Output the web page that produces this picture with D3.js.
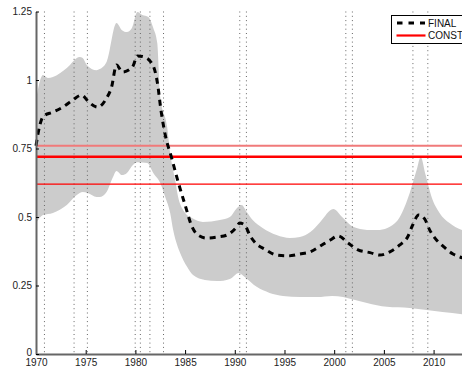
<!DOCTYPE html>
<html>
<head>
<meta charset="utf-8">
<script src="https://cdn.jsdelivr.net/npm/d3@7"></script>
<style>
  html, body { margin: 0; padding: 0; background: #fff; }
  svg { display: block; font-family: "Liberation Sans", Arial, sans-serif; }
</style>
</head>
<body>
<svg id="chart" width="462" height="372"></svg>
<script>
// Point estimate of the series, [year, value]
const finalSeries = [
  [1970.0, 0.76], [1970.35, 0.83], [1970.75, 0.868], [1971.7, 0.883], [1972.7, 0.901],
  [1973.7, 0.927], [1974.6, 0.945], [1975.3, 0.920], [1976.2, 0.901], [1977.1, 0.934],
  [1977.6, 0.974], [1978.1, 1.055], [1978.7, 1.029], [1979.7, 1.047], [1980.2, 1.088],
  [1980.9, 1.084], [1981.8, 1.051], [1982.2, 0.993], [1982.6, 0.883], [1983.0, 0.80],
  [1983.65, 0.715], [1984.3, 0.628], [1985.0, 0.544], [1985.7, 0.464], [1986.3, 0.434],
  [1987.2, 0.423], [1988.3, 0.427], [1989.2, 0.434], [1990.1, 0.460], [1990.5, 0.478],
  [1991.0, 0.471], [1991.5, 0.434], [1992.2, 0.401], [1993.0, 0.383], [1994.2, 0.361],
  [1995.35, 0.358], [1996.55, 0.365], [1997.6, 0.373], [1998.6, 0.394], [1999.6, 0.416],
  [2000.4, 0.431], [2001.4, 0.405], [2002.4, 0.380], [2003.6, 0.370], [2004.6, 0.361],
  [2005.6, 0.373], [2006.6, 0.398], [2007.4, 0.428], [2007.9, 0.471], [2008.5, 0.507],
  [2009.1, 0.493], [2009.6, 0.453], [2010.2, 0.420], [2011.0, 0.392], [2011.95, 0.365],
  [2012.65, 0.354], [2013.0, 0.350]
];

// Upper edge of the confidence band
const bandUpper = [
  [1970.0, 0.927], [1970.7, 1.018], [1971.2, 1.007], [1971.7, 1.011], [1973.1, 1.044],
  [1974.4, 1.084], [1974.7, 1.080], [1975.1, 1.055], [1976.1, 1.036], [1976.4, 1.040],
  [1977.1, 1.066], [1978.1, 1.208], [1978.65, 1.182], [1979.15, 1.175], [1979.65, 1.190],
  [1980.2, 1.248], [1980.7, 1.237], [1981.3, 1.230], [1981.8, 1.190], [1982.2, 1.135],
  [1982.5, 0.938], [1983.2, 0.828], [1983.5, 0.734], [1984.0, 0.635], [1984.3, 0.573],
  [1984.8, 0.526], [1985.7, 0.496], [1986.8, 0.482], [1988.5, 0.489], [1989.5, 0.500],
  [1990.3, 0.536], [1990.7, 0.544], [1991.2, 0.518], [1991.8, 0.489], [1992.8, 0.460],
  [1994.2, 0.434], [1995.55, 0.423], [1996.55, 0.427], [1997.6, 0.445], [1998.6, 0.482],
  [1999.9, 0.529], [2000.9, 0.496], [2001.9, 0.464], [2003.3, 0.453], [2004.6, 0.453],
  [2005.6, 0.464], [2006.6, 0.500], [2007.6, 0.588], [2008.3, 0.672], [2008.7, 0.719],
  [2009.2, 0.653], [2009.8, 0.573], [2010.6, 0.515], [2011.6, 0.478], [2013.0, 0.450]
];

// Lower edge of the confidence band
const bandLower = [
  [1970.0, 0.478], [1970.7, 0.507], [1971.7, 0.515], [1973.1, 0.544], [1974.1, 0.580],
  [1974.7, 0.591], [1975.2, 0.588], [1976.1, 0.573], [1976.4, 0.573], [1977.1, 0.591],
  [1977.7, 0.642], [1978.1, 0.668], [1978.65, 0.653], [1979.15, 0.661], [1979.75, 0.690],
  [1980.2, 0.700], [1981.2, 0.697], [1981.8, 0.661], [1982.5, 0.624], [1983.0, 0.573],
  [1983.5, 0.515], [1983.8, 0.453], [1984.2, 0.398], [1984.5, 0.369], [1985.2, 0.318],
  [1985.8, 0.288], [1987.0, 0.270], [1988.2, 0.266], [1989.5, 0.274], [1990.4, 0.296],
  [1991.0, 0.281], [1992.2, 0.245], [1993.5, 0.223], [1994.85, 0.212], [1996.55, 0.208],
  [1998.3, 0.208], [1999.8, 0.212], [2000.9, 0.208], [2002.1, 0.197], [2003.3, 0.186],
  [2005.3, 0.172], [2007.6, 0.168], [2009.3, 0.161], [2010.9, 0.153], [2013.0, 0.145]
];

// Constant estimate and its bounds
const constValue = 0.72;
const constUpper = 0.76;
const constLower = 0.62;

// Recession peak and trough dates
const recessionDates = [
  1970.85, 1973.83, 1975.17, 1979.98, 1980.5, 1981.46, 1982.83,
  1990.5, 1991.17, 2001.17, 2001.83, 2007.92, 2009.42
];

const xTicks = [1970, 1975, 1980, 1985, 1990, 1995, 2000, 2005, 2010];
const yTicks = [0, 0.25, 0.5, 0.75, 1, 1.25];
const yTickLabels = ["0", "0.25", "0.5", "0.75", "1", "1.25"];
const legendLabels = ["FINAL", "CONST"];

const svg = d3.select("#chart");
const x = d3.scaleLinear().domain([1970, 2013]).range([36, 463.4]);
const y = d3.scaleLinear().domain([0, 1.25]).range([354, 11.5]);

const curve = d3.curveMonotoneX;

// Confidence band: grey from upper edge down, then white from lower edge down
svg.append("path")
  .datum(bandUpper)
  .attr("fill", "#cccccc")
  .attr("d", d3.area().curve(curve).x(d => x(d[0])).y0(y(0)).y1(d => y(d[1])));
svg.append("path")
  .datum(bandLower)
  .attr("fill", "#ffffff")
  .attr("d", d3.area().curve(curve).x(d => x(d[0])).y0(y(0)).y1(d => y(d[1])));

// Recession markers
svg.append("g")
  .selectAll("line")
  .data(recessionDates)
  .join("line")
  .attr("x1", d => x(d)).attr("x2", d => x(d))
  .attr("y1", y(1.25)).attr("y2", y(0))
  .attr("stroke", "#666")
  .attr("stroke-width", 1)
  .attr("stroke-dasharray", "1,3.3");

// Constant line and bounds
const xEnd = x(2013);
svg.append("line")
  .attr("x1", x(1970)).attr("x2", xEnd)
  .attr("y1", y(constUpper)).attr("y2", y(constUpper))
  .attr("stroke", "#f07a7a").attr("stroke-width", 2);
svg.append("line")
  .attr("x1", x(1970)).attr("x2", xEnd)
  .attr("y1", y(constLower)).attr("y2", y(constLower))
  .attr("stroke", "#ff0000").attr("stroke-width", 1.3);
svg.append("line")
  .attr("x1", x(1970)).attr("x2", xEnd)
  .attr("y1", y(constValue)).attr("y2", y(constValue))
  .attr("stroke", "#ff0000").attr("stroke-width", 2.6);

// Point estimate, dashed
svg.append("path")
  .datum(finalSeries)
  .attr("fill", "none")
  .attr("stroke", "#000")
  .attr("stroke-width", 3)
  .attr("stroke-dasharray", "6,5")
  .attr("d", d3.line().curve(curve).x(d => x(d[0])).y(d => y(d[1])));

// Axes
const yAxis = d3.axisLeft(y)
  .tickValues(yTicks)
  .tickFormat((d, i) => yTickLabels[i])
  .tickSizeInner(-3).tickSizeOuter(0).tickPadding(4);
const xAxis = d3.axisBottom(x)
  .tickValues(xTicks)
  .tickFormat(d3.format("d"))
  .tickSizeInner(-4).tickSizeOuter(0).tickPadding(5);

function styleAxis(g) {
  g.select(".domain").attr("stroke", "#666").attr("stroke-width", 2);
  g.selectAll(".tick line").attr("stroke", "#000").attr("stroke-width", 1);
  g.selectAll(".tick text").attr("fill", "#222").attr("font-size", 10)
    .attr("font-family", "'Liberation Sans', Arial, sans-serif");
}

svg.append("g").attr("transform", `translate(0,${y(0)})`).call(xAxis).call(styleAxis);
const yAxisG = svg.append("g").attr("transform", `translate(${x(1970)},0)`).call(yAxis).call(styleAxis);
// lift the zero label a touch so it clears the first year label
yAxisG.selectAll(".tick text").filter(d => d === 0).attr("dy", "0.1em");

// Legend
const lg = svg.append("g").attr("transform", "translate(391.5,15.5)");
lg.append("rect")
  .attr("width", 95).attr("height", 28)
  .attr("fill", "#fff").attr("stroke", "#000").attr("stroke-width", 1);
lg.append("line")
  .attr("x1", 5.5).attr("x2", 33.5).attr("y1", 7.5).attr("y2", 7.5)
  .attr("stroke", "#000").attr("stroke-width", 3).attr("stroke-dasharray", "5.5,6");
lg.append("line")
  .attr("x1", 5).attr("x2", 34).attr("y1", 20).attr("y2", 20)
  .attr("stroke", "#ff0000").attr("stroke-width", 2.2);
lg.selectAll("text")
  .data(legendLabels)
  .join("text")
  .attr("x", 36.5)
  .attr("y", (d, i) => 11 + i * 12.5)
  .attr("font-size", 10)
  .attr("fill", "#111")
  .text(d => d);
</script>
</body>
</html>
